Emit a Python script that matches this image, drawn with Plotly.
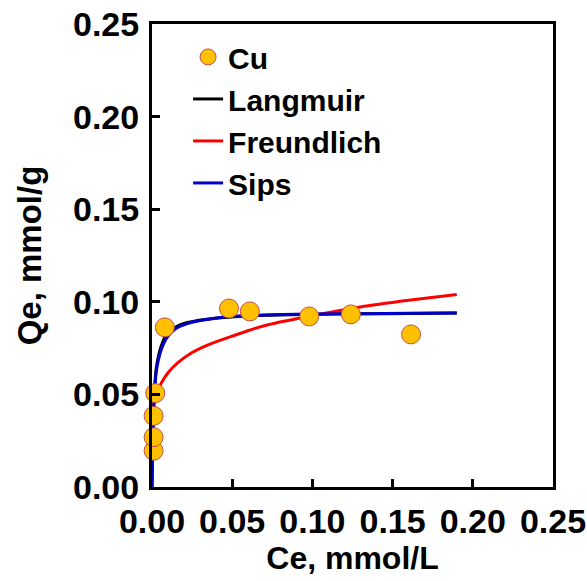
import plotly.graph_objects as go

# Experimental data (Cu)
cu_ce = [0.001, 0.001, 0.001, 0.002, 0.008, 0.048, 0.061, 0.098, 0.124, 0.1615]
cu_qe = [0.0196, 0.0269, 0.0384, 0.0507, 0.0862, 0.0964, 0.0948, 0.0921, 0.0932, 0.0824]

# Model curves
fit_ce = [0, 0.0005, 0.001, 0.0016, 0.0025, 0.0036, 0.0057, 0.0088, 0.014, 0.022,
          0.033, 0.047, 0.07, 0.1, 0.13, 0.16, 0.19]
langmuir_qe = [0, 0.026, 0.042, 0.053, 0.063, 0.069, 0.076, 0.082, 0.086, 0.0888,
               0.0905, 0.0917, 0.0927, 0.0932, 0.0935, 0.0937, 0.0939]
sips_qe = [0, 0.024, 0.040, 0.051, 0.061, 0.067, 0.074, 0.080, 0.085, 0.0882,
           0.0903, 0.0918, 0.0929, 0.0934, 0.0936, 0.0938, 0.0939]
freund_ce = [0.0036, 0.006, 0.01, 0.016, 0.025, 0.035, 0.05, 0.07, 0.1, 0.13, 0.16, 0.19]
freund_qe = [0.052, 0.0564, 0.0617, 0.067, 0.0726, 0.0768, 0.0815, 0.0871, 0.0925,
             0.0972, 0.1008, 0.104]

tick_vals = [0, 0.05, 0.10, 0.15, 0.20, 0.25]

FONT = "Liberation Sans, Arial, sans-serif"

fig = go.Figure()
fig.add_trace(go.Scatter(x=fit_ce, y=langmuir_qe, mode="lines", name="Langmuir",
                         line=dict(color="black", width=3, shape="spline", smoothing=0.8),
                         legendrank=2))
fig.add_trace(go.Scatter(x=freund_ce, y=freund_qe, mode="lines", name="Freundlich",
                         line=dict(color="#FF0000", width=3, shape="spline", smoothing=0.8),
                         legendrank=3))
fig.add_trace(go.Scatter(x=fit_ce, y=sips_qe, mode="lines", name="Sips",
                         line=dict(color="#0000C8", width=3, shape="spline", smoothing=0.8),
                         legendrank=4))
fig.add_trace(go.Scatter(x=cu_ce, y=cu_qe, mode="markers", name="Cu", cliponaxis=False,
                         marker=dict(size=19, color="#FFC000",
                                     line=dict(color="#C0504D", width=1)),
                         legendrank=1))

axis_common = dict(
    range=[0, 0.25], tickvals=tick_vals, tickformat=".2f",
    showline=True, linecolor="black", linewidth=3, mirror=True,
    ticks="inside", ticklen=8, tickwidth=2.5, tickcolor="black",
    showgrid=False, zeroline=False, automargin=False,
    tickfont=dict(family=FONT, size=34, color="black", weight="bold"),
)

fig.update_layout(
    width=587, height=581,
    margin=dict(l=152, r=34, t=24, b=94),
    paper_bgcolor="white", plot_bgcolor="white",
    font=dict(family=FONT, color="black"),
    xaxis=dict(**axis_common, ticklabelstandoff=2,
               title=dict(text="<b>Ce, mmol/L</b>", font=dict(family=FONT, size=32), standoff=0)),
    yaxis=dict(**axis_common, ticklabelstandoff=3,
               title=dict(text="<b>Qe, mmol/g</b>", font=dict(family=FONT, size=33), standoff=22)),
    legend=dict(x=0.09, y=0.985, xanchor="left", yanchor="top",
                bgcolor="rgba(0,0,0,0)", borderwidth=0,
                font=dict(family=FONT, size=30, color="black", weight="bold"),
                itemwidth=30, tracegroupgap=0),
    showlegend=True,
)

fig.write_html("out.html")
